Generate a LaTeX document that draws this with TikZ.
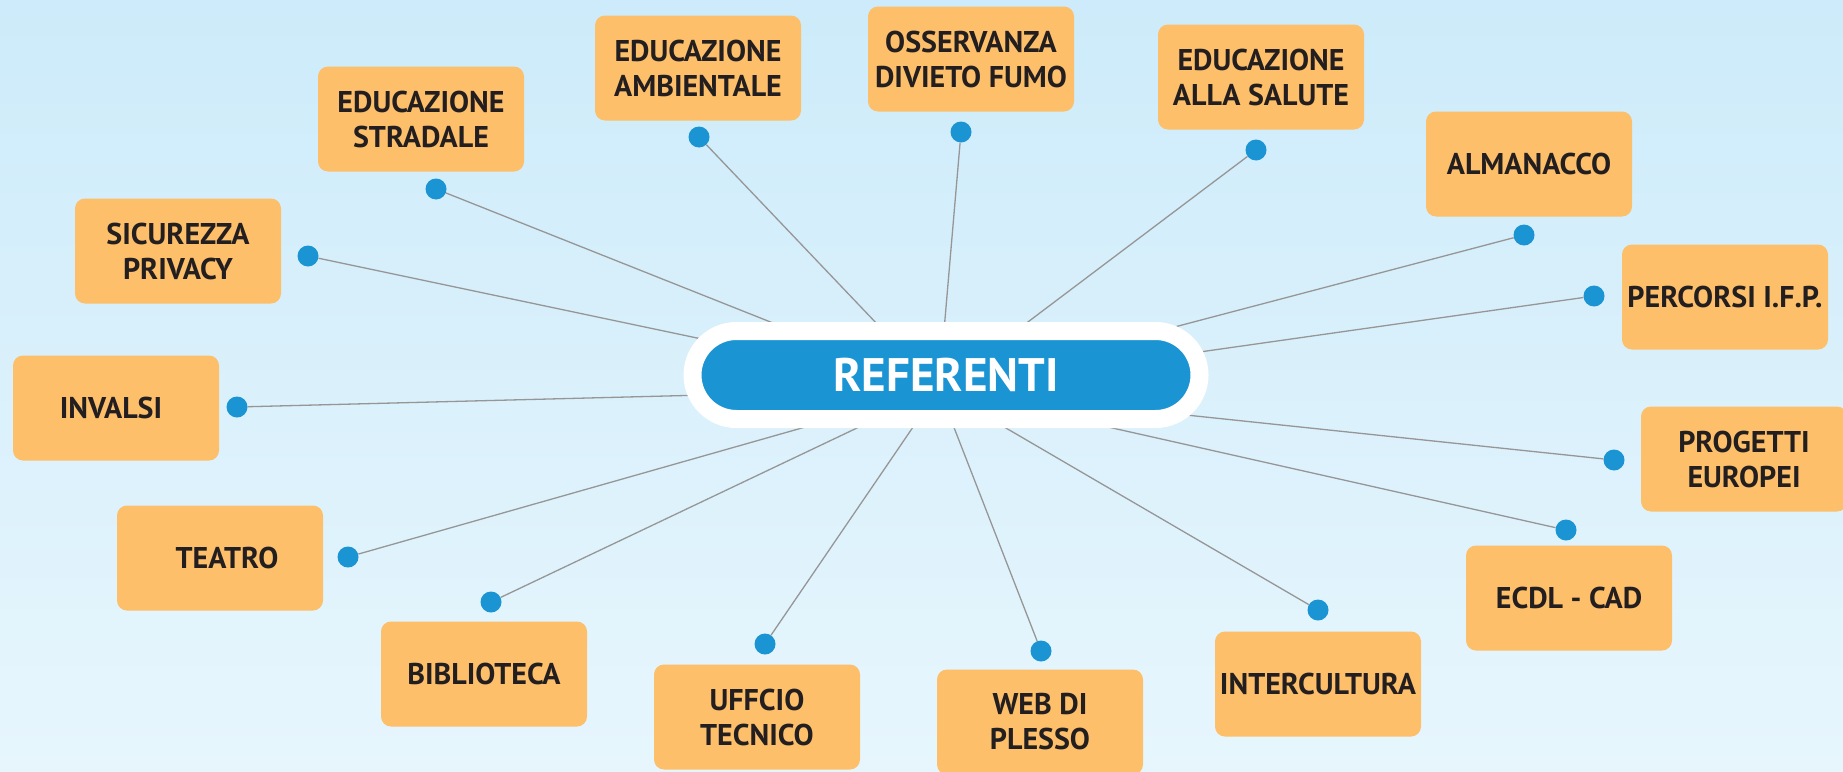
\documentclass[tikz,border=0pt]{standalone}
\usepackage{fontspec}
\setmainfont{PT Sans}
\usetikzlibrary{positioning,shapes.misc}
\definecolor{skytop}{RGB}{205,235,250}
\definecolor{skybot}{RGB}{231,246,253}
\definecolor{boxorange}{RGB}{253,191,105}
\definecolor{refblue}{RGB}{27,148,212}
\definecolor{inkdark}{RGB}{35,31,32}
\definecolor{spokegray}{RGB}{150,150,150}
\tikzset{
  topicbox/.style={fill=boxorange, rounded corners=10pt, minimum width=206pt, minimum height=105pt, inner sep=0pt, align=center, text=inkdark, font=\fontsize{30}{35}\selectfont\bfseries},
  bluedot/.style={circle, fill=refblue, minimum size=21pt, inner sep=0pt},
  spoke/.style={draw=spokegray, line width=1.3pt},
  hubpill/.style={rounded rectangle, fill=refblue, draw=white, line width=18pt, minimum width=507pt, minimum height=88pt, inner sep=0pt, text=white, font=\fontsize{47}{50}\selectfont\bfseries}
}

\begin{document}
\begin{tikzpicture}[x=1pt, y=-1pt]
  \useasboundingbox (0,0) rectangle (1843,771);
  \shade[top color=skytop, bottom color=skybot] (0,0) rectangle (1843,771);
  \clip (0,0) rectangle (1843,771);

  % topic boxes
  \node[topicbox] (stradale) at (421,119) {EDUCAZIONE\\STRADALE};
  \node[topicbox] (ambientale) at (698,68) {EDUCAZIONE\\AMBIENTALE};
  \node[topicbox] (fumo) at (971,59) {OSSERVANZA\\DIVIETO FUMO};
  \node[topicbox] (salute) at (1261,77) {EDUCAZIONE\\ALLA SALUTE};
  \node[topicbox] (almanacco) at (1529,164) {ALMANACCO};
  \node[topicbox] (percorsi) at (1725,297) {PERCORSI I.F.P.};
  \node[topicbox] (progetti) at (1744,459) {PROGETTI\\EUROPEI};
  \node[topicbox] (ecdl) at (1569,598) {ECDL - CAD};
  \node[topicbox] (intercultura) at (1318,684) {INTERCULTURA};
  \node[topicbox] (web) at (1040,722) {WEB DI\\PLESSO};
  \node[topicbox] (uffcio) at (757,717) {UFFCIO\\TECNICO};
  \node[topicbox] (biblioteca) at (484,674) {BIBLIOTECA};
  \node[topicbox] (teatro) at (220,558) {\hspace*{14pt}TEATRO};
  \node[topicbox] (invalsi) at (116,408) {INVALSI\hspace*{10pt}};
  \node[topicbox] (sicurezza) at (178,251) {SICUREZZA\\PRIVACY};

  % connector ends
  \node[bluedot] (dstradale) at (436,189) {};
  \node[bluedot] (dambientale) at (699,137) {};
  \node[bluedot] (dfumo) at (961,132) {};
  \node[bluedot] (dsalute) at (1256,150) {};
  \node[bluedot] (dalmanacco) at (1524,235) {};
  \node[bluedot] (dpercorsi) at (1594,296) {};
  \node[bluedot] (dprogetti) at (1614,460) {};
  \node[bluedot] (decdl) at (1566,530) {};
  \node[bluedot] (dintercultura) at (1318,610) {};
  \node[bluedot] (dweb) at (1041,651) {};
  \node[bluedot] (duffcio) at (765,644) {};
  \node[bluedot] (dbiblioteca) at (491,602) {};
  \node[bluedot] (dteatro) at (348,557) {};
  \node[bluedot] (dinvalsi) at (237,407) {};
  \node[bluedot] (dsicurezza) at (308,256) {};

  \coordinate (hub) at (939,389);
  \draw[spoke] (dstradale) -- (hub);
  \draw[spoke] (dambientale) -- (hub);
  \draw[spoke] (dfumo) -- (hub);
  \draw[spoke] (dsalute) -- (hub);
  \draw[spoke] (dalmanacco) -- (hub);
  \draw[spoke] (dpercorsi) -- (hub);
  \draw[spoke] (dprogetti) -- (hub);
  \draw[spoke] (decdl) -- (hub);
  \draw[spoke] (dintercultura) -- (hub);
  \draw[spoke] (dweb) -- (hub);
  \draw[spoke] (duffcio) -- (hub);
  \draw[spoke] (dbiblioteca) -- (hub);
  \draw[spoke] (dteatro) -- (hub);
  \draw[spoke] (dinvalsi) -- (hub);
  \draw[spoke] (dsicurezza) -- (hub);

  % centre
  \node[hubpill] (referenti) at (946,375) {REFERENTI};
\end{tikzpicture}
\end{document}
